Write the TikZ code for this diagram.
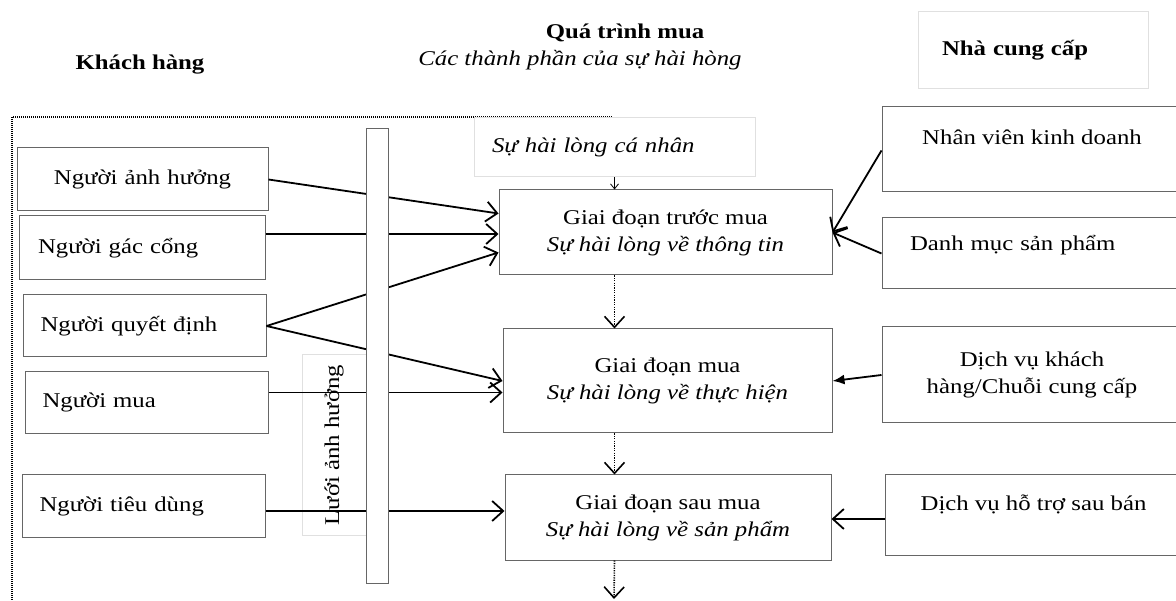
\documentclass[tikz,border=0pt]{standalone}
\usepackage{fontspec}
\setmainfont{Liberation Serif}[FakeStretch=1.18]
\usetikzlibrary{arrows.meta}

\begin{document}
\begin{tikzpicture}[
  x=1pt, y=-1pt,
  >={Straight Barb[length=11pt,width=20pt]},
  every node/.style={font=\fontsize{21}{27}\selectfont,inner sep=0pt},
  title node/.style={font=\fontsize{21}{27}\selectfont\bfseries},
  role node/.style={rectangle,draw=black!60,line width=1pt,minimum width=243pt,minimum height=62pt,text width=208pt,align=left},
  stage node/.style={rectangle,draw=black!60,line width=1pt,minimum width=330pt,minimum height=85pt,align=center},
  source node/.style={rectangle,draw=black!60,line width=1pt,minimum width=300pt,align=center},
  faint node/.style={rectangle,draw=black!12,line width=1pt},
  link/.style={->,line width=1.8pt},
  flow/.style={->,line width=1.6pt,dash pattern=on 1.2pt off 1.2pt},
]
\useasboundingbox (0,0) rectangle (1176,601);
% headings
\node[title node] (kh) at (140,65) {Khách hàng};
\node[title node] (qt) at (625,33) {Quá trình mua};
\node[font=\fontsize{21}{27}\selectfont\itshape] (qtsub) at (580,60) {Các thành phần của sự hài hòng};
\node[faint node,title node,minimum width=230pt,minimum height=77pt,text width=182pt,align=left] (ncc) at (1033,50) {Nhà cung cấp};
% customer side
\draw[line width=1.4pt,dash pattern=on 1pt off 1pt] (612,117) -- (12,117) -- (12,610);
\node[role node,minimum width=251pt,minimum height=63pt,align=center] (inf) at (142.5,179.5) {Người ảnh hưởng};
\node[role node,minimum width=246pt,minimum height=64pt] (gate) at (142,248) {Người gác cổng};
\node[role node] (dec) at (144.5,326) {Người quyết định};
\node[role node] (buy) at (146.5,402.5) {Người mua};
\node[role node] (use) at (143.5,506) {Người tiêu dùng};
\node[faint node,rotate=90,minimum width=180pt,minimum height=64pt] (net) at (334,445) {Lưới ảnh hưởng};
% buying process
\node[faint node,minimum width=281pt,minimum height=59pt,text width=245pt,align=left,font=\fontsize{21}{27}\selectfont\itshape] (pers) at (614.5,147.5) {Sự hài lòng cá nhân};
\node[stage node,minimum width=333pt] (pre) at (665.5,232.5) {Giai đoạn trước mua\\\textit{Sự hài lòng về thông tin}};
\node[stage node,minimum width=329pt,minimum height=104pt] (dur) at (667.5,381) {Giai đoạn mua\\\textit{Sự hài lòng về thực hiện}};
\node[stage node,minimum width=326pt] (post) at (668,517.5) {Giai đoạn sau mua\\\textit{Sự hài lòng về sản phẩm}};
\coordinate (end) at (614,599);
% supplier side
\node[source node,minimum height=85pt,text depth=25pt] (sales) at (1032,149.5) {Nhân viên kinh doanh};
\node[source node,minimum height=71pt,text depth=21pt,text width=244pt,align=left] (cat) at (1032,253.5) {Danh mục sản phẩm};
\node[source node,minimum height=96pt] (svc) at (1032,375) {Dịch vụ khách\\hàng/Chuỗi cung cấp};
\node[source node,minimum width=297pt,minimum height=80pt,text depth=24pt] (aft) at (1033.5,515) {Dịch vụ hỗ trợ sau bán};
% links
\draw[link] (inf.east) -- ([yshift=19pt]pre.west);
\draw[link] ([yshift=14pt]gate.east) -- ([yshift=14pt]gate.east -| pre.west);
\draw[link] (dec.east) -- ([yshift=-20pt]pre.west);
\draw[link] (dec.east) -- (dur.west);
\draw[link] ([yshift=10pt]buy.east) -- ([yshift=10pt]buy.east -| dur.west);
\draw[link] ([yshift=-5pt]use.east) -- ([yshift=-5pt]use.east -| post.west);
\node[rectangle,draw=black!60,fill=white,line width=1pt,minimum width=22pt,minimum height=454pt] (bar) at (377,356) {};
\draw[link] ([yshift=-1pt]sales.west) -- (pre.east);
\draw[link] (cat.west) -- (pre.east);
\draw[->,>={Latex[length=12pt,width=10pt]},line width=1.8pt] (svc.west) -- (dur.east);
\draw[link] ([yshift=-4pt]aft.west) -- ([yshift=-4pt]aft.west -| post.east);
\draw[->,line width=0.8pt,>={Straight Barb[length=5pt,width=8pt]}] (pers.south) -- (pers.south |- pre.north);
\draw[flow] (pers.south |- pre.south) -- (pers.south |- dur.north);
\draw[flow] (pers.south |- dur.south) -- (pers.south |- post.north);
\draw[flow] (pers.south |- post.south) -- (end);
\end{tikzpicture}
\end{document}
